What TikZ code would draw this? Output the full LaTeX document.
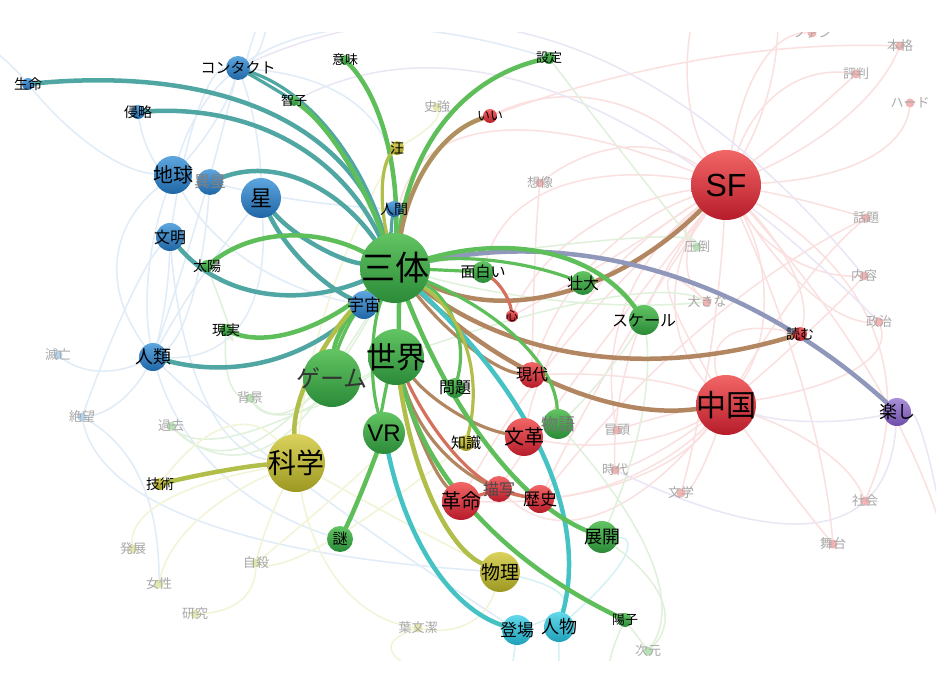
\documentclass[tikz,border=0pt]{standalone}
\usepackage{fontspec}
\setmainfont{Noto Sans CJK JP}
\newfontfamily\lat{Liberation Sans}
\usetikzlibrary{calc}
\pgfdeclarelayer{back}\pgfdeclarelayer{bg}
\pgfsetlayers{back,bg,main}
% ball colours
\definecolor{gT}{HTML}{62C462}\definecolor{gB}{HTML}{2A8A38}
\definecolor{bT}{HTML}{5EA6DE}\definecolor{bB}{HTML}{1F66A6}
\definecolor{rT}{HTML}{F26666}\definecolor{rB}{HTML}{B61C2A}
\definecolor{oT}{HTML}{DAD25C}\definecolor{oB}{HTML}{9C9822}
\definecolor{cT}{HTML}{62D8EA}\definecolor{cB}{HTML}{1FA0BA}
\definecolor{pT}{HTML}{AA90DA}\definecolor{pB}{HTML}{6E4EA8}
% edge colours
\definecolor{eG}{HTML}{5DBE5A}\definecolor{eT}{HTML}{4FA6A2}
\definecolor{eBr}{HTML}{B28660}\definecolor{eR}{HTML}{D4705C}
\definecolor{eC}{HTML}{45C2C4}\definecolor{eO}{HTML}{B2BE4A}
\definecolor{eP}{HTML}{8F97BA}\definecolor{eRG}{HTML}{B0905F}
\definecolor{fR}{HTML}{FBE0E0}\definecolor{fB}{HTML}{E0ECF7}
\definecolor{fG}{HTML}{DFF1DB}\definecolor{fO}{HTML}{F1F5D6}
\definecolor{fP}{HTML}{EAE6F5}\definecolor{fC}{HTML}{D4F1F4}
\definecolor{dR}{HTML}{F2B3B3}\definecolor{dB}{HTML}{B5D3EC}
\definecolor{dG}{HTML}{B8E0B5}\definecolor{dO}{HTML}{E3E7B0}
\definecolor{ftx}{HTML}{A8A8A8}
\tikzset{
  ball/.style={circle, inner sep=0pt, outer sep=0pt, draw=none},
  gb/.style={ball, top color=gT, bottom color=gB},
  bb/.style={ball, top color=bT, bottom color=bB},
  rb/.style={ball, top color=rT, bottom color=rB},
  ob/.style={ball, top color=oT, bottom color=oB},
  cb/.style={ball, top color=cT, bottom color=cB},
  pb/.style={ball, top color=pT, bottom color=pB},
  dr/.style={ball, fill=dR}, dbl/.style={ball, fill=dB},
  dg/.style={ball, fill=dG}, dol/.style={ball, fill=dO},
  lab/.style={inner sep=0pt, text=black},
  flab/.style={inner sep=0pt, text=ftx, font=\fontsize{13}{13}\selectfont},
  tk/.style={line width=4.5pt, line cap=round},
  md/.style={line width=3.2pt, line cap=round},
  fa/.style={line width=1.5pt},
}
\newcommand\nd[7]{\node[#5, minimum size=#4pt] (#1) at (#2,#3) {};
  \node[lab, font=\fontsize{#6}{#6}\selectfont] (#1-t) at (#2,#3) {#7};}
\newcommand\fd[5]{\node[#4, minimum size=9pt] (#1) at (#2,#3) {};
  \node[flab] (#1-t) at (#2,#3) {#5};}
\newcommand\ed[4][]{\draw[#1] (#2) .. controls ($1.3333*#3-0.3333*(#4)$) and ($1.3333*#3-0.3333*(#2)$) .. (#4);}
\begin{document}
\begin{tikzpicture}[x=1pt,y=-1pt]
\useasboundingbox (0,0) rectangle (948,676);
\begin{pgfonlayer}{back}
\fill[white] (0,0) rectangle (948,676);
\end{pgfonlayer}
% ---------- faint nodes ----------
\begin{scope}
\clip (0,33) rectangle (936,660);
\fd{fan}{812}{33}{dr}{ファン}
\end{scope}
\fd{shikyo}{437}{107}{dol}{史強}
\fd{sozo}{540}{183}{dr}{想像}
\fd{atto}{697}{247}{dg}{圧倒}
\fd{okina}{707}{302}{dr}{大きな}
\fd{honkaku}{900}{46}{dr}{本格}
\fd{hyoban}{856}{74}{dr}{評判}
\fd{hard}{910}{103}{dr}{ハード}
\fd{wadai}{866}{218}{dr}{話題}
\fd{naiyo}{864}{276}{dr}{内容}
\fd{seiji}{879}{322}{dr}{政治}
\fd{boto}{617}{430}{dr}{冒頭}
\fd{jidai}{615}{470}{dr}{時代}
\fd{bungaku}{681}{493}{dr}{文学}
\fd{shakai}{865}{501}{dr}{社会}
\fd{butai}{833}{544}{dr}{舞台}
\fd{metsubo}{58}{355}{dbl}{滅亡}
\fd{zetsubo}{82}{417}{dbl}{絶望}
\fd{kako}{171}{426}{dg}{過去}
\fd{haikei}{250}{398}{dg}{背景}
\fd{hatten}{133}{549}{dol}{発展}
\fd{josei}{159}{584}{dol}{女性}
\fd{kenkyu}{195}{614}{dol}{研究}
\fd{jisatsu}{256}{563}{dol}{自殺}
\fd{yobunketsu}{418}{628}{dol}{葉文潔}
\fd{jigen}{648}{651}{dg}{次元}
\coordinate (offL) at (-20,40);
\coordinate (offT1) at (268,-10);
\coordinate (offT2) at (700,-10);
\coordinate (offT3) at (775,-10);
\coordinate (offR) at (960,640);
\coordinate (offB1) at (505,700);
\coordinate (offB2) at (565,700);
\coordinate (offB3) at (640,700);
% ---------- main nodes ----------
\nd{isei}{210}{182}{26}{bb}{16}{\textcolor{gray}{異星}}
\nd{chikyu}{173}{175}{38}{bb}{20}{地球}
\nd{hoshi}{261}{198}{40}{bb}{22}{星}
\nd{bunmei}{170}{237}{28}{bb}{16}{文明}
\nd{taiyo}{207}{266}{12}{gb}{14}{太陽}
\nd{jinrui}{153}{357}{28}{bb}{18}{人類}
\nd{genjitsu}{226}{330}{12}{gb}{14}{現実}
\nd{seimei}{28}{84}{12}{bb}{14}{生命}
\nd{shinryaku}{138}{112}{14}{bb}{14}{侵略}
\nd{contact}{238}{68}{24}{bb}{15}{コンタクト}
\nd{tomoko}{294}{101}{10}{gb}{13}{智子}
\nd{imi}{345}{60}{10}{gb}{13}{意味}
\nd{settei}{549}{58}{12}{gb}{13}{設定}
\nd{wang}{397}{148}{14}{ob}{14}{汪}
\nd{ii}{490}{116}{14}{rb}{13}{いい}
\nd{ningen}{394}{209}{16}{bb}{14}{人間}
\nd{game}{332}{378}{58}{gb}{24}{\textcolor{black!80}{ゲーム}}
\nd{kagaku}{296}{463}{58}{ob}{28}{科学}
\nd{gijutsu}{160}{484}{12}{ob}{14}{技術}
\nd{santi}{395}{268}{70}{gb}{34}{三体}
\nd{uchu}{364}{305}{28}{bb}{17}{宇宙}
\nd{sekai}{396}{357}{56}{gb}{30}{世界}
\nd{vr}{384}{433}{42}{gb}{24}{\lat VR}
\nd{omoshiroi}{483}{272}{22}{gb}{15}{面白い}
\nd{kokoro}{512}{316}{12}{rb}{12}{心}
\nd{sodai}{583}{283}{24}{gb}{16}{壮大}
\nd{scale}{644}{320}{30}{gb}{16}{スケール}
\nd{mondai}{455}{388}{20}{gb}{16}{問題}
\nd{gendai}{532}{375}{26}{rb}{16}{現代}
\nd{monogatari}{558}{424}{30}{gb}{17}{\textcolor{black!55}{物語}}
\nd{bunkaku}{524}{437}{38}{rb}{20}{文革}
\nd{chishiki}{466}{443}{16}{ob}{15}{知識}
\nd{byosha}{499}{489}{26}{rb}{16}{\textcolor{black!70}{描写}}
\nd{rekishi}{540}{499}{28}{rb}{17}{歴史}
\nd{kakumei}{461}{501}{38}{rb}{20}{革命}
\nd{tenkai}{602}{537}{32}{gb}{18}{展開}
\nd{nazo}{340}{539}{26}{gb}{15}{謎}
\nd{butsuri}{500}{572}{40}{ob}{19}{物理}
\nd{tojo}{517}{630}{30}{cb}{17}{登場}
\nd{jinbutsu}{559}{627}{30}{cb}{18}{人物}
\nd{yoko}{625}{620}{14}{gb}{13}{陽子}
\nd{sf}{726}{185}{70}{rb}{32}{\lat SF}
\nd{yomu}{800}{334}{14}{rb}{14}{読む}
\nd{chugoku}{726}{405}{60}{rb}{30}{中国}
\nd{tanoshi}{897}{412}{28}{pb}{18}{楽し}
% ---------- edges ----------
\begin{pgfonlayer}{bg}
\begin{scope}
\clip (0,33) rectangle (936,660);
% faint red
\begin{scope}[fa, draw=fR]
\ed{sf}{(840,120)}{honkaku}
\ed{sf}{(780,95)}{hyoban}
\ed{sf}{(860,160)}{hard}
\ed{sf}{(800,200)}{wadai}
\ed{sf}{(790,255)}{naiyo}
\ed{sf}{(810,290)}{seiji}
\ed{sf}{(690,225)}{atto}
\ed{sf}{(690,255)}{okina}
\ed{sf}{(630,150)}{sozo}
\ed{sf}{(610,105)}{ii}
\ed{sf}{(790,270)}{yomu}
\ed{sf}{(760,300)}{chugoku}
\ed{sf}{(680,300)}{chugoku}
\ed{sf}{(640,330)}{jidai}
\ed{sf}{(710,350)}{bungaku}
\ed{sf}{(870,330)}{shakai}
\ed{sf}{(800,380)}{butai}
\ed{sf}{(630,300)}{boto}
\ed{sf}{(600,260)}{gendai}
\ed{sf}{(590,300)}{bunkaku}
\ed{sf}{(620,350)}{rekishi}
\ed{sf}{(570,340)}{kakumei}
\ed{sf}{(590,360)}{byosha}
\ed{sf}{(590,230)}{kokoro}
\ed{sf}{(760,70)}{fan}
\ed{sf}{(690,90)}{offT2}
\ed{sf}{(770,80)}{offT3}
\ed{sf}{(900,430)}{offR}
\ed{sf}{(560,190)}{omoshiroi}
\ed{sf}{(480,140)}{santi}
\ed{chugoku}{(820,450)}{shakai}
\ed{chugoku}{(790,490)}{butai}
\ed{chugoku}{(700,470)}{bungaku}
\ed{chugoku}{(660,450)}{jidai}
\ed{chugoku}{(850,370)}{seiji}
\ed{chugoku}{(810,330)}{naiyo}
\ed{chugoku}{(800,290)}{wadai}
\ed{chugoku}{(670,415)}{boto}
\ed{chugoku}{(640,470)}{rekishi}
\ed{chugoku}{(630,440)}{bunkaku}
\ed{chugoku}{(640,380)}{gendai}
\ed{chugoku}{(620,480)}{kakumei}
\ed{chugoku}{(730,340)}{yomu}
\ed{chugoku}{(670,290)}{okina}
\ed{chugoku}{(600,510)}{byosha}
\ed{sozo}{(535,260)}{gendai}
\ed{ii}{(700,60)}{honkaku}
\ed{hyoban}{(700,200)}{kokoro}
\ed{wadai}{(700,330)}{rekishi}
\end{scope}
% faint lavender
\begin{scope}[fa, draw=fP]
\ed{chugoku}{(810,420)}{tanoshi}
\ed{tomoko}{(560,95)}{seiji}
\ed{contact}{(560,45)}{naiyo}
\ed{tanoshi}{(930,470)}{offR}
\ed{tanoshi}{(820,520)}{jidai}
\end{scope}
% faint blue
\begin{scope}[fa, draw=fB]
\ed{seimei}{(100,150)}{chikyu}
\ed{seimei}{(5,60)}{offL}
\ed{jinrui}{(100,370)}{metsubo}
\ed{jinrui}{(120,400)}{zetsubo}
\ed{jinrui}{(150,270)}{chikyu}
\ed{jinrui}{(165,300)}{bunmei}
\ed{jinrui}{(200,210)}{contact}
\ed{jinrui}{(200,280)}{hoshi}
\ed{bunmei}{(200,110)}{contact}
\ed{chikyu}{(215,120)}{contact}
\ed{hoshi}{(255,130)}{contact}
\ed{shinryaku}{(150,150)}{chikyu}
\ed{chikyu}{(250,260)}{uchu}
\ed{isei}{(300,200)}{ningen}
\ed{zetsubo}{(200,520)}{butsuri}
\ed{jinrui}{(220,470)}{nazo}
\ed{bunmei}{(210,400)}{kagaku}
\ed{contact}{(262,40)}{offT1}
\ed{contact}{(250,45)}{offT1}
\ed{chikyu}{(120,260)}{jinrui}
\ed{bunmei}{(130,300)}{zetsubo}
\ed{isei}{(190,300)}{jinrui}
\ed{hoshi}{(240,320)}{jinrui}
\ed{chikyu}{(300,40)}{settei}
\ed{contact}{(360,110)}{ningen}
\ed{jinrui}{(300,480)}{tojo}
\ed{zetsubo}{(140,480)}{josei}
\end{scope}
% faint green
\begin{scope}[fa, draw=fG]
\ed{santi}{(270,430)}{kako}
\ed{santi}{(310,395)}{haikei}
\ed{sekai}{(250,430)}{kako}
\ed{game}{(250,450)}{kako}
\ed{yoko}{(640,640)}{jigen}
\ed{monogatari}{(650,560)}{jigen}
\ed{santi}{(560,300)}{okina}
\ed{santi}{(620,240)}{atto}
\ed{settei}{(620,150)}{atto}
\ed{tenkai}{(660,600)}{jigen}
\ed{genjitsu}{(230,380)}{haikei}
\ed{sekai}{(300,410)}{haikei}
\ed{taiyo}{(230,330)}{genjitsu}
\ed{sekai}{(600,300)}{okina}
\ed{scale}{(640,420)}{tenkai}
\ed{monogatari}{(600,380)}{scale}
\ed{yoko}{(610,680)}{offB3}
\end{scope}
% faint olive
\begin{scope}[fa, draw=fO]
\ed{kagaku}{(270,520)}{jisatsu}
\ed{kagaku}{(170,500)}{hatten}
\ed{kagaku}{(200,520)}{josei}
\ed{jisatsu}{(240,600)}{kenkyu}
\ed{kagaku}{(340,580)}{yobunketsu}
\ed{butsuri}{(470,620)}{yobunketsu}
\ed{wang}{(430,125)}{shikyo}
\ed{kagaku}{(400,520)}{butsuri}
\ed{jisatsu}{(350,480)}{vr}
\ed{wang}{(330,300)}{kagaku}
\ed{kagaku}{(230,430)}{gijutsu}
\ed{yobunketsu}{(400,660)}{offB1}
\ed{jisatsu}{(330,540)}{chishiki}
\end{scope}
% faint cyan
\begin{scope}[fa, draw=fC]
\ed{tojo}{(510,680)}{offB1}
\ed{jinbutsu}{(560,690)}{offB2}
\ed{jinbutsu}{(620,560)}{tenkai}
\ed{tojo}{(560,600)}{butsuri}
\end{scope}
% ---------- prominent edges ----------
\ed[tk, draw=eT]{seimei}{(268,116)}{santi}
\ed[tk, draw=eT]{shinryaku}{(290,145)}{santi}
\ed[md, draw=eT]{contact}{(266,84)}{tomoko}
\ed[md, draw=eT]{contact}{(330,135)}{santi}
\ed[tk, draw=eG]{tomoko}{(345,160)}{santi}
\ed[tk, draw=eG]{imi}{(385,140)}{santi}
\ed[tk, draw=eG]{settei}{(445,125)}{santi}
\ed[tk, draw=eRG]{ii}{(430,165)}{santi}
\ed[md, draw=eO]{wang}{(384,190)}{santi}
\ed[md, draw=eT]{ningen}{(392,235)}{santi}
\ed[tk, draw=eT]{isei}{(305,185)}{santi}
\ed[tk, draw=eT]{hoshi}{(320,245)}{santi}
\ed[tk, draw=eT]{hoshi}{(305,262)}{uchu}
\ed[tk, draw=eT]{bunmei}{(265,290)}{santi}
\ed[tk, draw=eG]{taiyo}{(290,238)}{santi}
\ed[tk, draw=eG]{genjitsu}{(300,328)}{santi}
\ed[tk, draw=eT]{jinrui}{(265,360)}{uchu}
\ed[tk, draw=eBr]{santi}{(560,288)}{sf}
\ed[tk, draw=eP]{santi}{(660,275)}{tanoshi}
\ed[tk, draw=eG]{santi}{(545,256)}{scale}
\ed[md, draw=eG]{santi}{(490,262)}{sodai}
\ed[md, draw=eG]{santi}{(440,270)}{omoshiroi}
\ed[md, draw=eR]{omoshiroi}{(503,292)}{kokoro}
\ed[tk, draw=eBr]{santi}{(560,382)}{chugoku}
\ed[tk, draw=eBr]{santi}{(585,352)}{yomu}
\ed[md, draw=eBr]{santi}{(470,345)}{gendai}
\ed[md, draw=eG]{santi}{(515,340)}{monogatari}
\ed[tk, draw=eC]{santi}{(540,455)}{jinbutsu}
\ed[tk, draw=eG]{santi}{(398,312)}{sekai}
\ed[tk, draw=eG]{santi}{(350,320)}{game}
\ed[md, draw=eG]{santi}{(375,350)}{vr}
\ed[tk, draw=eO]{kagaku}{(318,365)}{santi}
\ed[md, draw=eG]{santi}{(375,290)}{uchu}
\ed[md, draw=eG]{santi}{(450,320)}{mondai}
\ed[md, draw=eO]{santi}{(462,345)}{chishiki}
\ed[md, draw=eBr]{sekai}{(455,410)}{bunkaku}
\ed[md, draw=eBr]{sekai}{(450,455)}{rekishi}
\ed[md, draw=eR]{sekai}{(445,440)}{byosha}
\ed[md, draw=eBr]{sekai}{(425,445)}{kakumei}
\ed[tk, draw=eG]{santi}{(490,445)}{tenkai}
\ed[tk, draw=eG]{sekai}{(475,510)}{yoko}
\ed[tk, draw=eG]{vr}{(360,495)}{nazo}
\ed[tk, draw=eC]{vr}{(435,565)}{tojo}
\ed[tk, draw=eO]{sekai}{(435,500)}{butsuri}
\ed[tk, draw=eO]{kagaku}{(230,470)}{gijutsu}
\ed[md, draw=eR]{byosha}{(520,495)}{rekishi}
\ed[md, draw=eR]{kakumei}{(480,495)}{byosha}
\ed[md, draw=eG]{game}{(345,335)}{uchu}
\ed[md, draw=eG]{sekai}{(385,400)}{vr}
\end{scope}
\end{pgfonlayer}
\end{tikzpicture}
\end{document}
